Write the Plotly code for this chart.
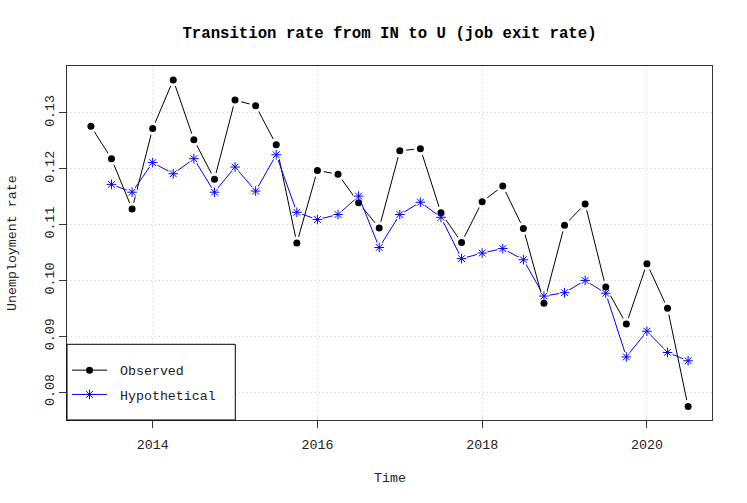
import plotly.graph_objects as go

# time index: quarterly, 2013.25 .. 2020.5
start_year = 2013.25
observed = [0.1276, 0.1218, 0.1128, 0.1272, 0.1359, 0.1252, 0.1181, 0.1323, 0.1313, 0.1243,
            0.1067, 0.1197, 0.1190, 0.1139, 0.1094, 0.1232, 0.1236, 0.1121, 0.1068, 0.1141,
            0.1169, 0.1093, 0.0959, 0.1099, 0.1137, 0.0988, 0.0922, 0.1030, 0.0950, 0.0774]
hyp_start = 2013.5
hypothetical = [0.1172, 0.1158, 0.1211, 0.1191, 0.1218, 0.1158, 0.1203, 0.1160, 0.1225, 0.1122,
                0.1109, 0.1118, 0.1151, 0.1059, 0.1118, 0.1140, 0.1113, 0.1039, 0.1049, 0.1057,
                0.1037, 0.0972, 0.0978, 0.1000, 0.0977, 0.0863, 0.0909, 0.0871, 0.0856]
x_ticks = [2014, 2016, 2018, 2020]
y_ticks = [0.08, 0.09, 0.10, 0.11, 0.12, 0.13]

t_obs = [start_year + 0.25 * i for i in range(len(observed))]
t_hyp = [hyp_start + 0.25 * i for i in range(len(hypothetical))]

FONT = "Liberation Mono, Courier New, monospace"
W, H = 747, 503
L, R, T, B = 67, 35, 66, 83
PW, PH = W - L - R, H - T - B

fig = go.Figure()
# observed line + white gaps + markers
fig.add_trace(go.Scatter(x=t_obs, y=observed, mode="lines", line=dict(color="black", width=1),
                         showlegend=False, hoverinfo="skip"))
fig.add_trace(go.Scatter(x=t_obs, y=observed, mode="markers",
                         marker=dict(color="white", size=13, symbol="circle"),
                         showlegend=False, hoverinfo="skip"))
fig.add_trace(go.Scatter(x=t_hyp, y=hypothetical, mode="lines", line=dict(color="#0000ff", width=1),
                         showlegend=False, hoverinfo="skip"))
fig.add_trace(go.Scatter(x=t_hyp, y=hypothetical, mode="markers",
                         marker=dict(color="white", size=11, symbol="circle"),
                         showlegend=False, hoverinfo="skip"))
fig.add_trace(go.Scatter(x=t_obs, y=observed, mode="markers", name="Observed",
                         marker=dict(color="black", size=7, symbol="circle"),
                         showlegend=False))
fig.add_trace(go.Scatter(x=t_hyp, y=hypothetical, mode="markers", name="Hypothetical",
                         marker=dict(color="#0000ff", size=8, symbol="asterisk-open",
                                     line=dict(color="#0000ff", width=1)),
                         showlegend=False))
# legend entries
fig.add_trace(go.Scatter(x=[None], y=[None], mode="lines+markers", name="\u00a0Observed",
                         line=dict(color="black", width=1),
                         marker=dict(color="black", size=7, symbol="circle"),
                         legendgroup="a"))
fig.add_trace(go.Scatter(x=[None], y=[None], mode="lines+markers", name="\u00a0Hypothetical",
                         line=dict(color="#0000ff", width=1),
                         marker=dict(color="#0000ff", size=8, symbol="asterisk-open",
                                     line=dict(color="#0000ff", width=1)),
                         legendgroup="b"))

axis_common = dict(showline=True, mirror=True, linecolor="#333333", linewidth=1,
                   ticks="outside", ticklen=7, tickcolor="#333333", tickwidth=1,
                   showgrid=True, gridcolor="#d3d3d3", griddash="1px,3px", gridwidth=1,
                   zeroline=False, tickfont=dict(family=FONT, size=13.3, color="#222222"))

fig.update_layout(
    width=W, height=H,
    margin=dict(l=L, r=R, t=T, b=B, autoexpand=False),
    paper_bgcolor="white", plot_bgcolor="white",
    font=dict(family=FONT, color="#222222"),
    title=dict(text="<b>Transition rate from IN to U (job exit rate)</b>",
               x=0.5, xref="paper", xanchor="center",
               y=1 - 33 / H, yref="container", yanchor="middle",
               font=dict(family=FONT, size=15.7, color="black")),
    xaxis=dict(range=[2012.96, 2020.79], tickvals=x_ticks, ticktext=[str(v) for v in x_ticks],
               ticklabelstandoff=5, **axis_common),
    yaxis=dict(range=[0.0750, 0.1384], tickvals=y_ticks, tickformat=".2f",
               tickangle=-90, ticklabelstandoff=0, **axis_common),
    legend=dict(x=0.0, y=10 / PH, xanchor="left", yanchor="bottom", xref="paper", yref="paper",
                bgcolor="rgba(0,0,0,0)", borderwidth=0, itemwidth=35,
                tracegroupgap=4, traceorder="grouped",
                font=dict(family=FONT, size=13.3, color="#222222")),
    shapes=[dict(type="rect", xref="paper", yref="paper", x0=0, y0=0,
                 x1=(235.3 - L) / PW, y1=(H - B - 344.3) / PH,
                 fillcolor="white", line=dict(color="black", width=1), layer="above")],
    annotations=[
        dict(text="Time", xref="paper", yref="paper", x=0.5, y=-(478 - (H - B)) / PH,
             showarrow=False, xanchor="center", yanchor="middle",
             font=dict(family=FONT, size=13.3, color="#222222")),
        dict(text="Unemployment rate", xref="paper", yref="paper", x=-(L - 12) / PW, y=0.5,
             showarrow=False, xanchor="center", yanchor="middle", textangle=-90,
             font=dict(family=FONT, size=13.3, color="#222222")),
    ],
)

fig.write_html("out.html", config={"displayModeBar": False},
               post_script="document.body.style.margin='0';document.body.style.overflow='hidden';")
